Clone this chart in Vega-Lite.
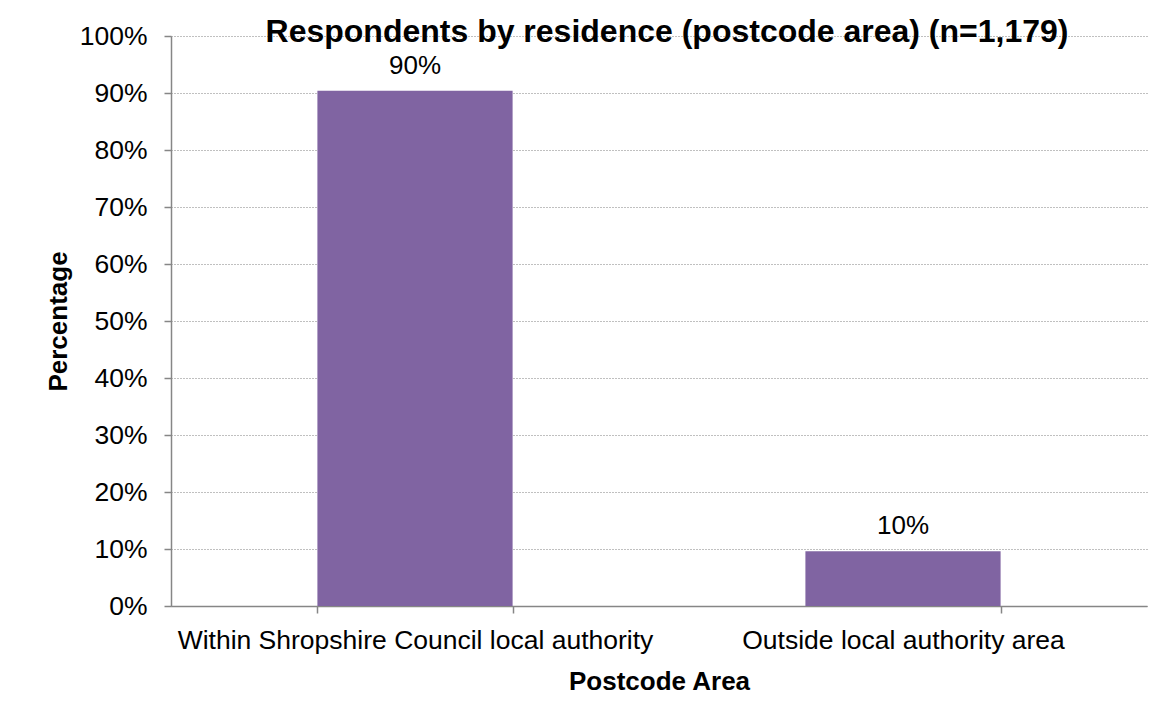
{
  "$schema": "https://vega.github.io/schema/vega-lite/v6.json",
  "width": 976,
  "height": 570,
  "autosize": {"type": "none"},
  "padding": {"left": 171, "top": 36, "right": 21, "bottom": 114},
  "background": "white",
  "title": {
    "text": "Respondents by residence (postcode area) (n=1,179)",
    "font": "Liberation Sans",
    "fontSize": 32,
    "fontWeight": "bold",
    "color": "black",
    "anchor": "middle",
    "baseline": "alphabetic",
    "offset": -18,
    "dy": 33,
    "dx": 8
  },
  "data": {
    "values": [
      {"area": "Within Shropshire Council local authority", "pct": 0.904},
      {"area": "Outside local authority area", "pct": 0.096}
    ]
  },
  "encoding": {
    "x": {
      "field": "area",
      "type": "nominal",
      "sort": null,
      "scale": {"paddingInner": 0.6, "paddingOuter": 0.3},
      "axis": {
        "title": "Postcode Area",
        "labelAngle": 0,
        "labelLimit": 0,
        "tickBand": "extent",
        "ticks": true,
        "tickSize": 7,
        "labelPadding": 14,
        "titlePadding": 15,
        "grid": false
      }
    },
    "y": {
      "field": "pct",
      "type": "quantitative",
      "scale": {"domain": [0, 1]},
      "axis": {
        "title": "Percentage",
        "format": ".0%",
        "values": [0, 0.1, 0.2, 0.3, 0.4, 0.5, 0.6, 0.7, 0.8, 0.9, 1],
        "tickSize": 7,
        "labelPadding": 17,
        "titlePadding": 8,
        "grid": true
      }
    }
  },
  "layer": [
    {"mark": {"type": "bar", "color": "#8064A2"}},
    {
      "mark": {"type": "text", "dy": -17, "fontSize": 26, "font": "Liberation Sans", "baseline": "alphabetic", "color": "black"},
      "encoding": {"text": {"field": "pct", "type": "quantitative", "format": ".0%"}}
    }
  ],
  "config": {
    "view": {"stroke": null},
    "axis": {
      "labelFont": "Liberation Sans",
      "labelFontSize": 26.5,
      "labelColor": "black",
      "titleFont": "Liberation Sans",
      "titleFontSize": 26,
      "titleFontWeight": "bold",
      "titleColor": "black",
      "domainColor": "#868686",
      "domainWidth": 1.5,
      "tickColor": "#868686",
      "tickWidth": 1.5,
      "gridColor": "#808080",
      "gridDash": [1, 2],
      "gridWidth": 1
    }
  }
}
